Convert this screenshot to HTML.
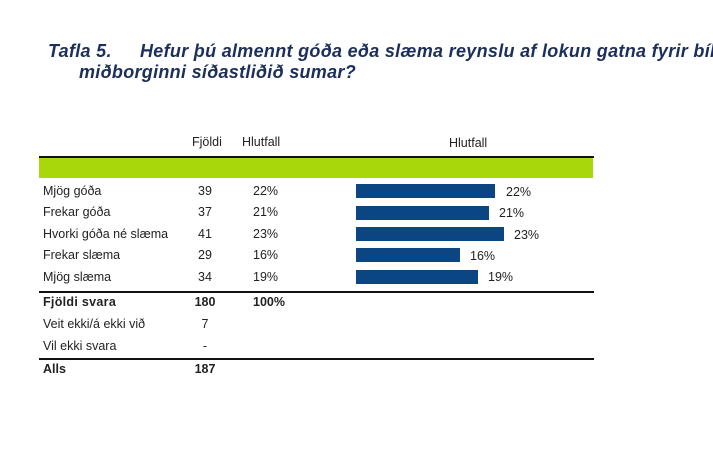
<!DOCTYPE html>
<html><head><meta charset="utf-8">
<style>
html,body{margin:0;padding:0;width:713px;height:460px;overflow:hidden;background:#fff;}
body{position:relative;font-family:"Liberation Sans",Arial,sans-serif;color:#222;}
.t{position:absolute;white-space:nowrap;font-size:12.5px;line-height:15px;}
.b{font-weight:bold;}
.title{position:absolute;white-space:nowrap;font-size:18px;line-height:20px;font-weight:bold;font-style:italic;color:#1b2f5a;letter-spacing:0.3px;}
.c{text-align:center;width:40px;}
.bar{position:absolute;left:356px;height:14px;background:#0b4683;}
.line{position:absolute;left:39px;width:555px;height:2px;background:#111;}
</style></head><body>
<div class="title" style="left:48px;top:41px;">Tafla 5.</div>
<div class="title" style="left:140px;top:41px;">Hefur þú almennt góða eða slæma reynslu af lokun gatna fyrir bíla</div>
<div class="title" style="left:79px;top:62px;">miðborginni síðastliðið sumar?</div>

<div class="t" style="left:192px;top:135px;">Fjöldi</div>
<div class="t" style="left:242px;top:135px;">Hlutfall</div>
<div class="t" style="left:449px;top:136px;">Hlutfall</div>

<div class="line" style="top:156px;"></div>
<div style="position:absolute;left:39px;top:158px;width:554px;height:20px;background:#a8d80a;"></div>

<div class="t" style="left:43px;top:184px;">Mjög góða</div>
<div class="t" style="left:43px;top:205px;">Frekar góða</div>
<div class="t" style="left:43px;top:227px;">Hvorki góða né slæma</div>
<div class="t" style="left:43px;top:248px;">Frekar slæma</div>
<div class="t" style="left:43px;top:270px;">Mjög slæma</div>

<div class="t c" style="left:185px;top:184px;">39</div>
<div class="t c" style="left:185px;top:205px;">37</div>
<div class="t c" style="left:185px;top:227px;">41</div>
<div class="t c" style="left:185px;top:248px;">29</div>
<div class="t c" style="left:185px;top:270px;">34</div>

<div class="t" style="left:253px;top:184px;">22%</div>
<div class="t" style="left:253px;top:205px;">21%</div>
<div class="t" style="left:253px;top:227px;">23%</div>
<div class="t" style="left:253px;top:248px;">16%</div>
<div class="t" style="left:253px;top:270px;">19%</div>

<div class="bar" style="top:184px;width:139px;"></div>
<div class="bar" style="top:206px;width:133px;"></div>
<div class="bar" style="top:227px;width:148px;"></div>
<div class="bar" style="top:248px;width:104px;"></div>
<div class="bar" style="top:270px;width:122px;"></div>

<div class="t" style="left:506px;top:185px;">22%</div>
<div class="t" style="left:499px;top:206px;">21%</div>
<div class="t" style="left:514px;top:228px;">23%</div>
<div class="t" style="left:470px;top:249px;">16%</div>
<div class="t" style="left:488px;top:270px;">19%</div>

<div class="line" style="top:291px;"></div>

<div class="t b" style="left:43px;top:295px;letter-spacing:0.3px;">Fjöldi svara</div>
<div class="t b c" style="left:185px;top:295px;">180</div>
<div class="t b" style="left:253px;top:295px;">100%</div>

<div class="t" style="left:43px;top:317px;">Veit ekki/á ekki við</div>
<div class="t c" style="left:185px;top:317px;">7</div>

<div class="t" style="left:43px;top:339px;">Vil ekki svara</div>
<div class="t c" style="left:185px;top:339px;">-</div>

<div class="line" style="top:358px;"></div>

<div class="t b" style="left:43px;top:362px;">Alls</div>
<div class="t b c" style="left:185px;top:362px;">187</div>
</body></html>
